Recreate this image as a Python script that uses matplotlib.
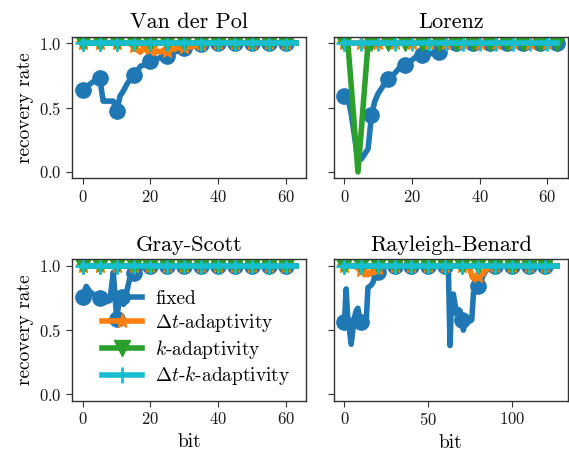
import matplotlib
matplotlib.use("Agg")
import matplotlib.pyplot as plt

# ── data ──────────────────────────────────────────────────────────────────────
BITS_64  = list(range(64))
BITS_128 = list(range(128))

vdp_fixed = ([0.64, 0.66, 0.68, 0.70, 0.71, 0.73, 0.55, 0.55, 0.55, 0.55,
              0.47, 0.59, 0.63, 0.68, 0.72, 0.75, 0.78, 0.82, 0.83, 0.85,
              0.86, 0.87, 0.88, 0.89, 0.90, 0.90, 0.92, 0.93, 0.94, 0.95,
              0.96, 0.97, 0.97, 0.98, 0.99, 0.99] + [1.0] * 28)
vdp_dt    = ([1.0] * 15 +
             [0.98, 0.95, 0.93, 0.97, 0.94, 0.96, 0.92, 0.94, 0.93, 0.95, 0.94,
              0.96, 0.95, 0.97, 0.96, 0.97, 0.98, 0.97, 0.98, 0.98, 0.99, 0.99]
             + [1.0] * 27)
vdp_k     = [1.0] * 64
vdp_dtk   = [1.0] * 64

lor_fixed = ([0.59, 0.58, 0.45, 0.27, 0.10, 0.10, 0.14, 0.18, 0.44, 0.55,
              0.61, 0.65, 0.69, 0.72, 0.74, 0.77, 0.80, 0.82, 0.83, 0.85,
              0.87, 0.89, 0.90, 0.91, 0.91, 0.92, 0.92, 0.93, 0.935, 0.95,
              0.96, 0.98, 0.99] + [1.0] * 31)
lor_dt    = [1.0] * 64
lor_k     = [1.0, 1.0, 0.67, 0.33, 0.0, 0.33, 0.67] + [1.0] * 57
lor_dtk   = [1.0] * 64

gs_fixed  = ([0.76, 0.84, 0.80, 0.78, 0.77, 0.75, 0.74, 0.72, 0.73, 0.95,
              0.59, 0.78, 0.70, 0.80, 0.92, 0.94, 0.97, 0.98, 0.99] + [1.0] * 45)
gs_dt     = [1.0] * 64
gs_k      = [1.0] * 64
gs_dtk    = [1.0] * 64

rb_fixed  = ([0.56, 0.82, 0.57, 0.50, 0.39, 0.50, 0.60, 0.65, 0.67, 0.60,
              0.56, 0.55, 0.55, 0.57, 0.83, 0.84, 0.85, 0.87, 0.91, 0.93,
              0.95, 0.96, 0.97, 0.98, 0.99] + [1.0] * 38 +
             [0.38, 0.75, 0.78, 0.70, 0.62, 0.66, 0.65, 0.58, 0.50, 0.58,
              0.60, 0.58, 0.57, 0.58, 0.79, 0.80, 0.82, 0.84, 0.87, 0.90,
              0.93, 0.95, 0.97, 0.99] + [1.0] * 41)
rb_dt     = ([1.0] * 10 +
             [0.97, 0.95, 0.93, 0.94, 0.93, 0.95, 0.94, 0.96, 0.95, 0.97, 0.98]
             + [1.0] * 54 +
             [0.97, 0.92, 0.90, 0.91, 0.93, 0.92, 0.94, 0.93, 0.95, 0.96, 0.97,
              0.98, 0.99] + [1.0] * 40)
rb_k      = [1.0] * 128
rb_dtk    = [1.0] * 128

TITLES = ["Van der Pol", "Lorenz", "Gray-Scott", "Rayleigh-Benard"]
PANELS = [
    (BITS_64,  vdp_fixed, vdp_dt, vdp_k, vdp_dtk),
    (BITS_64,  lor_fixed, lor_dt, lor_k, lor_dtk),
    (BITS_64,  gs_fixed,  gs_dt,  gs_k,  gs_dtk),
    (BITS_128, rb_fixed,  rb_dt,  rb_k,  rb_dtk),
]
LABELS = ["fixed", r"$\Delta t$-adaptivity", r"$k$-adaptivity",
          r"$\Delta t$-$k$-adaptivity"]

# marker spacing per panel (Lorenz fixed / k skip the dip)
LOR_MARKS = [0] + list(range(8, 64, 5))
MARK_EVERY = [
    [5, 5, 5, 5],
    [LOR_MARKS, 5, LOR_MARKS, 5],
    [5, 5, 5, 5],
    [10, 10, 10, 10],
]

# ── style ─────────────────────────────────────────────────────────────────────
plt.rcParams.update({
    "font.family": "serif",
    "font.serif": ["cmr10"],
    "mathtext.fontset": "cm",
    "axes.formatter.use_mathtext": True,
    "axes.unicode_minus": False,
    "axes.edgecolor": "0.2",
    "axes.linewidth": 1.0,
    "xtick.direction": "out",
    "ytick.direction": "out",
    "xtick.major.size": 4,
    "ytick.major.size": 4,
    "xtick.color": "0.2",
    "ytick.color": "0.2",
    "xtick.labelcolor": "0.1",
    "ytick.labelcolor": "0.1",
})

STYLES = [
    dict(color="#1f77b4", marker="o", ms=11),
    dict(color="#ff7f0e", marker="*", ms=11),
    dict(color="#2ca02c", marker="v", ms=11),
    dict(color="#17becf", marker="+", ms=11, mew=2),
]

fig, axes = plt.subplots(2, 2, figsize=(5.69, 4.58), dpi=100, sharey=True)
plt.subplots_adjust(left=0.127, right=0.998, bottom=0.1247, top=0.9197,
                    wspace=0.1176, hspace=0.572)

for ax, title, (bits, *series), marks in zip(axes.flat, TITLES, PANELS, MARK_EVERY):
    for vals, st, lab, me in zip(series, STYLES, LABELS, marks):
        ax.plot(bits, vals, lw=4, markevery=me, label=lab, **st)
    ax.set_title(title, fontsize=16, pad=6)
    ax.set_ylim(-0.05, 1.05)
    ax.set_yticks([0.0, 0.5, 1.0])
    ax.tick_params(labelsize=12)

for ax in axes[:, 0]:
    ax.set_ylabel("recovery rate", fontsize=14)
for ax in axes[1, :]:
    ax.set_xlabel("bit", fontsize=14)

axes[1, 0].legend(loc="center left", bbox_to_anchor=(0.125, 0.44),
                  frameon=False, fontsize=14, borderpad=0, borderaxespad=0,
                  handlelength=2.1, handletextpad=0.65, labelspacing=0.2,
                  numpoints=1)

fig.savefig("out.png", dpi=100)
